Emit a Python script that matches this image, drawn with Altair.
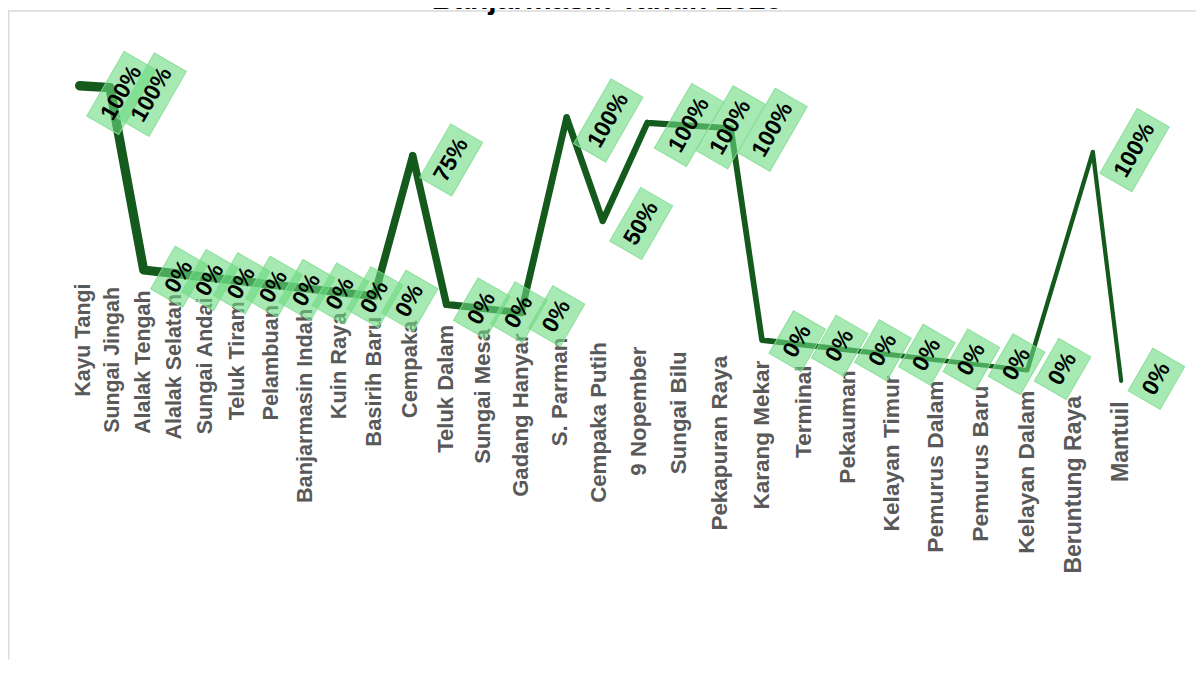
import altair as alt
import pandas as pd

# ---- data ----
kelurahan = ["Kayu Tangi", "Sungai Jingah", "Alalak Tengah", "Alalak Selatan", "Sungai Andai",
             "Teluk Tiram", "Pelambuan", "Banjarmasin Indah", "Kuin Raya", "Basirih Baru",
             "Cempaka", "Teluk Dalam", "Sungai Mesa", "Gadang Hanyar", "S. Parman",
             "Cempaka Putih", "9 Nopember", "Sungai Bilu", "Pekapuran Raya", "Karang Mekar",
             "Terminal", "Pekauman", "Kelayan Timur", "Pemurus Dalam", "Pemurus Baru",
             "Kelayan Dalam", "Beruntung Raya", "Mantuil"]
persen = [100, 100, 0, 0, 0, 0, 0, 0, 0, 0,
          75, 0, 0, 0, 100, 50, 100, 100, 100, 0,
          0, 0, 0, 0, 0, 0, 100, 0]
title_text = "Banjarmasin Tahun 2025"

df = pd.DataFrame({"kel": kelurahan, "v": persen, "i": list(range(len(kelurahan)))})

W, H = 1190, 652
FONT = "Liberation Sans"
xs = alt.Scale(domain=[8, 8 + W], nice=False, zero=False)
ys = alt.Scale(domain=[8, 8 + H], reverse=True, nice=False, zero=False)

# perspective projection of the tilted 3-D plot floor (Excel 3-D line look)
base = (
    alt.Chart(df)
    .transform_calculate(xb="84 + 29.26*datum.i + 0.3416*datum.i*datum.i")
    .transform_calculate(y0="253.6 + 0.1134*datum.xb")
    .transform_calculate(hh="174 + 0.0464*datum.xb")
    .transform_calculate(xp="datum.xb + (datum.xb - 260)*0.000233*datum.v")
    .transform_calculate(yp="datum.y0 - datum.v/100*datum.hh")
    .transform_calculate(lab="datum.v + '%'")
)

cats = (
    base.transform_calculate(ly="datum.y0 + 20.5")
    .transform_calculate(fs="21.3 + 0.067*datum.i")
    .mark_text(angle=270, align="right", baseline="middle", font=FONT,
               fontWeight="bold", color="#595959")
    .encode(
        x=alt.X("xb:Q", scale=xs, axis=None),
        y=alt.Y("ly:Q", scale=ys, axis=None),
        text="kel:N",
        size=alt.Size("fs:Q", scale=None, legend=None),
    )
)

line = (
    base.transform_calculate(w="9.5 - 0.2*datum.i")
    .mark_trail(color="#145a1c")
    .encode(
        x=alt.X("xp:Q", scale=xs, axis=None),
        y=alt.Y("yp:Q", scale=ys, axis=None),
        order="i:Q",
        size=alt.Size("w:Q", scale=None, legend=None),
    )
)

lab_base = (
    base.transform_calculate(L="16 + 23*(0.556*(length(datum.lab)-1) + 0.889)")
    .transform_calculate(bx="datum.xp + 7 + (datum.L*0.5 + 37*0.866)/2")
    .transform_calculate(by="datum.yp + 8 - 0.009*datum.xp")
    .transform_calculate(hr="37/datum.L")
    .transform_calculate(
        shp="'M -1 -' + datum.hr + ' L 1 -' + datum.hr + ' L 1 ' + datum.hr + ' L -1 ' + datum.hr + ' Z'"
    )
    .transform_calculate(sz="datum.L*datum.L")
)

boxes = lab_base.mark_point(
    filled=True, angle=300, fill="#6bda80", fillOpacity=0.6, opacity=1,
    stroke="#86dd96", strokeWidth=1, strokeOpacity=0.9
).encode(
    x=alt.X("bx:Q", scale=xs, axis=None),
    y=alt.Y("by:Q", scale=ys, axis=None),
    shape=alt.Shape("shp:N", scale=None, legend=None),
    size=alt.Size("sz:Q", scale=None, legend=None),
)

texts = lab_base.mark_text(
    angle=300, align="center", baseline="middle", font=FONT, fontSize=23,
    fontWeight="bold", color="#000000"
).encode(
    x=alt.X("bx:Q", scale=xs, axis=None),
    y=alt.Y("by:Q", scale=ys, axis=None),
    text="lab:N",
)

frame = pd.DataFrame({"k": [0]})
border_top = alt.Chart(frame).mark_rule(color="#d9d9d9", strokeWidth=1.5).encode(
    x=alt.value(0), x2=alt.value(W), y=alt.value(2.5)
)
border_left = alt.Chart(frame).mark_rule(color="#d9d9d9", strokeWidth=1.8).encode(
    x=alt.value(0.5), y=alt.value(2), y2=alt.value(H)
)

title = alt.Chart(pd.DataFrame({"t": [title_text]})).mark_text(
    font=FONT, fontSize=30, fontWeight="bold", color="#000000",
    align="center", baseline="alphabetic"
).encode(x=alt.value(600), y=alt.value(0), text="t:N")

chart = alt.layer(border_top, border_left, cats, line, boxes, texts, title).properties(
    width=W, height=H, padding=0, autosize="none"
).configure_view(stroke=None)

chart.save("out.html", embed_options={"renderer": "svg", "actions": False})
